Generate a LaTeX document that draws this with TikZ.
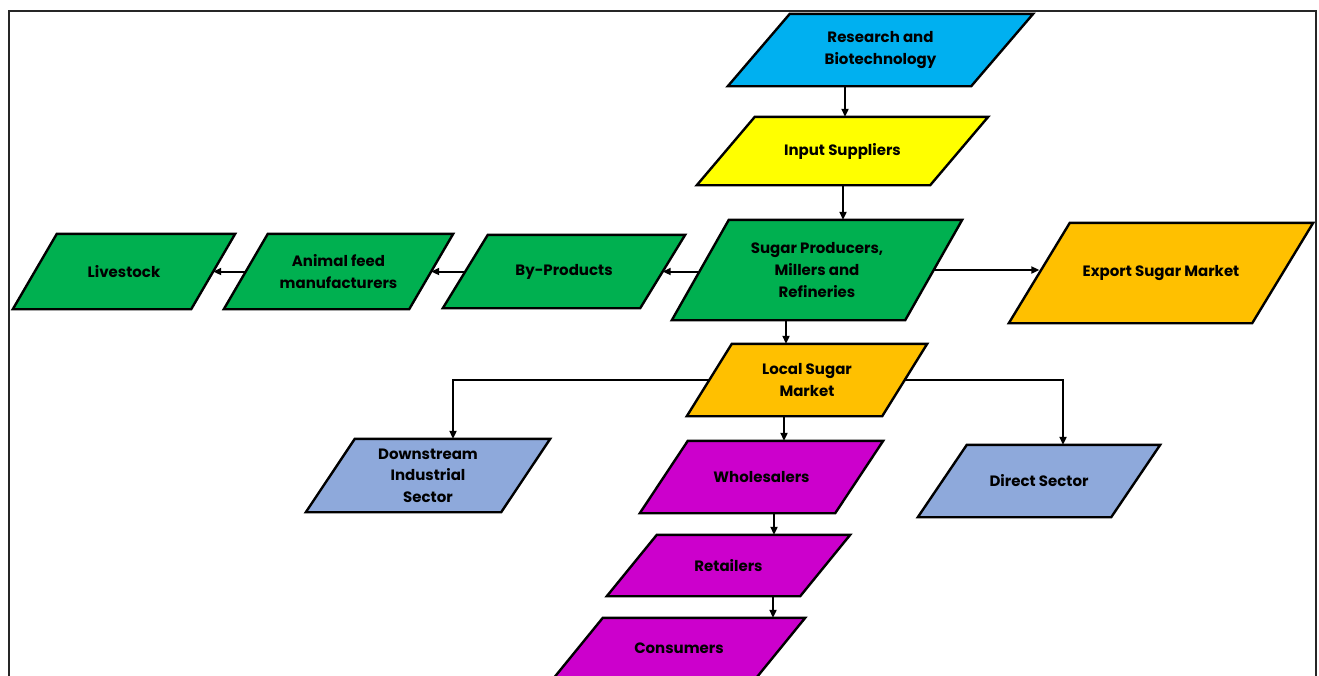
\documentclass[tikz,border=0pt]{standalone}
\usepackage{fontspec}
\setmainfont{Poppins}
\usetikzlibrary{arrows.meta,backgrounds}
\definecolor{cResearch}{HTML}{00B0F0}
\definecolor{cInput}{HTML}{FFFF00}
\definecolor{cGreen}{HTML}{00B050}
\definecolor{cOrange}{HTML}{FFC000}
\definecolor{cBlue}{HTML}{8EA9DB}
\definecolor{cMagenta}{HTML}{CC00CC}
\definecolor{cFrame}{HTML}{262626}
\tikzset{
  box/.style={inner sep=0pt, align=center, text=black,
    font=\bfseries\fontsize{15}{21.7}\selectfont},
  arr/.style={line width=2pt, -{Triangle[length=8pt,width=7pt]}},
  frame/.style={line width=1.6pt, draw=cFrame},
  shapeline/.style={draw=black, line width=2.4pt, line join=miter}
}
\newcommand{\parashape}[3]{%
  \path[shapeline, fill=#3] (#1.south west) -- ([xshift=-#2pt]#1.south east)
    -- (#1.north east) -- ([xshift=#2pt]#1.north west) -- cycle;}
\begin{document}
\begin{tikzpicture}[x=1pt,y=-1pt]
\useasboundingbox (0,0) rectangle (1319,675);
\draw[frame] (9,11) rectangle (1316,705);

% nodes (bounding boxes of the parallelograms)
\node[box, minimum width=305pt, minimum height=72pt] (research) at (880.5,50) {Research and\\Biotechnology};
\node[box, minimum width=291pt, minimum height=68pt] (input) at (842.5,151) {Input Suppliers};
\node[box, minimum width=290pt, minimum height=100pt] (sugar) at (817,270) {Sugar Producers,\\Millers and\\Refineries};
\node[box, minimum width=304pt, minimum height=100pt] (export) at (1161,273) {Export Sugar Market};
\node[box, minimum width=242pt, minimum height=73pt] (byprod) at (564,271.5) {By-Products};
\node[box, minimum width=229pt, minimum height=75pt] (feed) at (338.5,271.5) {Animal feed\\manufacturers};
\node[box, minimum width=222pt, minimum height=75pt] (livestock) at (124,271.5) {Livestock};
\node[box, minimum width=240pt, minimum height=72pt] (local) at (807,380) {Local Sugar\\Market};
\node[box, minimum width=244pt, minimum height=73pt] (downstream) at (428,475.5) {Downstream\\Industrial\\Sector};
\node[box, minimum width=243pt, minimum height=72pt] (wholesale) at (761.5,477) {Wholesalers};
\node[box, minimum width=242pt, minimum height=72pt] (direct) at (1039,481) {Direct Sector};
\node[box, minimum width=243pt, minimum height=61pt] (retail) at (728.5,565.5) {Retailers};
\node[box, minimum width=252pt, minimum height=61pt] (consumers) at (679,648.5) {Consumers};

\begin{scope}[on background layer]
\parashape{research}{62}{cResearch}
\parashape{input}{58}{cInput}
\parashape{sugar}{57}{cGreen}
\parashape{export}{61}{cOrange}
\parashape{byprod}{45}{cGreen}
\parashape{feed}{44}{cGreen}
\parashape{livestock}{44}{cGreen}
\parashape{local}{45}{cOrange}
\parashape{downstream}{49}{cBlue}
\parashape{wholesale}{48}{cMagenta}
\parashape{direct}{49}{cBlue}
\parashape{retail}{50}{cMagenta}
\parashape{consumers}{50}{cMagenta}
\end{scope}

% connector x positions
\coordinate (xa) at (845,0);
\coordinate (xb) at (843,0);
\coordinate (xc) at (786,0);
\coordinate (xd) at (784,0);
\coordinate (xe) at (774,0);
\coordinate (xf) at (773,0);
\coordinate (xg) at (453,0);
\coordinate (xh) at (1063,0);

\draw[arr] (research.south -| xa) -- (input.north -| xa);
\draw[arr] (input.south -| xb) -- (sugar.north -| xb);
\draw[arr] ([xshift=28.5pt]sugar.west |- byprod.east) -- ([xshift=-22.5pt]byprod.east);
\draw[arr] ([xshift=22.5pt]byprod.west) -- ([xshift=-22pt]feed.east);
\draw[arr] ([xshift=22pt]feed.west) -- ([xshift=-22pt]livestock.east);
\draw[arr] ([xshift=-28.5pt]sugar.east) -- ([xshift=30.5pt]sugar.east -| export.west);
\draw[arr] (sugar.south -| xc) -- (local.north -| xc);
\draw[arr] ([xshift=22.5pt]local.west) -| (downstream.north -| xg);
\draw[arr] ([xshift=-22.5pt]local.east) -| (direct.north -| xh);
\draw[arr] (local.south -| xd) -- (wholesale.north -| xd);
\draw[arr] (wholesale.south -| xe) -- (retail.north -| xe);
\draw[arr] (retail.south -| xf) -- (consumers.north -| xf);
\end{tikzpicture}
\end{document}
